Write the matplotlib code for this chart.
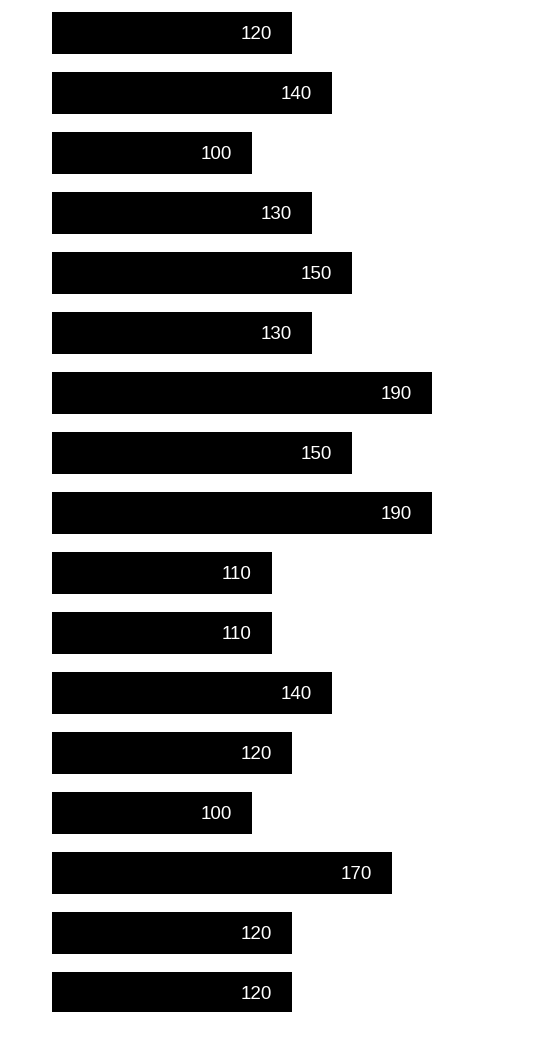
import matplotlib
matplotlib.use("Agg")
import matplotlib.pyplot as plt

values = [120, 140, 100, 130, 150, 130, 190, 150, 190, 110, 110, 140, 120, 100, 170, 120, 120]
labels = [str(v) for v in values]

W, H = 550, 1062
BOTTOM = 1012
fig = plt.figure(figsize=(W / 100, H / 100), dpi=100)
ax = fig.add_axes([52 / W, (H - BOTTOM) / H, (W - 52) / W, BOTTOM / H])
ax.set_xlim(0, (W - 52) / 2)
ax.set_ylim((BOTTOM - 33) / 60, -33 / 60)

ys = list(range(len(values)))
ax.barh(ys, values, height=0.7, color="black")
for y, v, lab in zip(ys, values, labels):
    ax.text(v - 10, y + 0.02, lab, ha="right", va="center", color="white",
            fontsize=13.5, family="Liberation Sans")
ax.axis("off")
fig.savefig("out.png", dpi=100)
